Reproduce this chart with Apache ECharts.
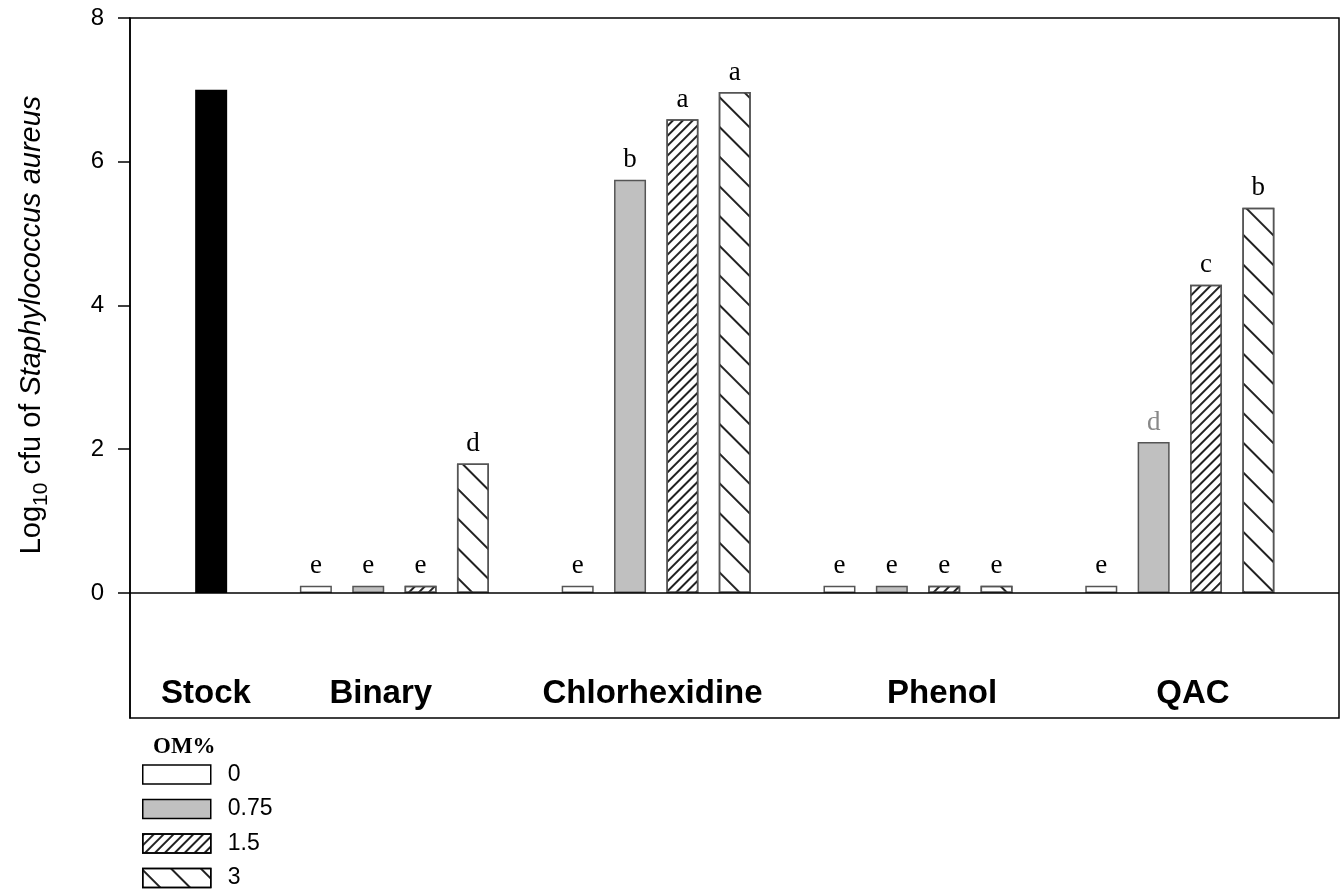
<!DOCTYPE html>
<html>
<head>
<meta charset="utf-8">
<script src="https://cdn.jsdelivr.net/npm/echarts@6/dist/echarts.min.js"></script>
<style>
html,body{margin:0;padding:0;background:#fff;}
#chart{width:1342px;height:892px;}
</style>
</head>
<body>
<div id="chart"></div>
<script>
// ---- data ----
const stockLabel = 'Stock';
const stockValue = 7.0;
const treatments = ['Binary', 'Chlorhexidine', 'Phenol', 'QAC'];
const omLevels = ['0', '0.75', '1.5', '3'];
const om0   = [0.1, 0.1, 0.1, 0.1];
const om075 = [0.1, 5.75, 0.1, 2.1];
const om15  = [0.1, 6.59, 0.1, 4.29];
const om3   = [1.8, 6.97, 0.1, 5.36];
const letters0   = ['e', 'e', 'e', 'e'];
const letters075 = ['e', 'b', 'e', 'd'];
const letters15  = ['e', 'a', 'e', 'c'];
const letters3   = ['d', 'a', 'e', 'b'];
const yTicks = [0, 2, 4, 6, 8];

// ---- layout helpers ----
const SANS = 'Liberation Sans, Arial, sans-serif';
const SERIF = 'Liberation Serif, Times New Roman, serif';
const slot = (g, k) => 2 + g * 5 + k;
const stockPos = 0;
const labelShift = [-0.1, -0.26, -0.07, 0.46, 0.25];
const catPositions = [stockPos + labelShift[0]].concat(treatments.map((t, g) => slot(g, 1.5) + labelShift[g + 1]));
const catNames = [stockLabel].concat(treatments);
const catMap = {};
catPositions.forEach((p, i) => { catMap[p.toFixed(3)] = catNames[i]; });

const values = [om0, om075, om15, om3];
const letters = [letters0, letters075, letters15, letters3];
const fills = ['#ffffff', '#c0c0c0', '#ffffff', '#ffffff'];
const decals = [
  null,
  null,
  { symbol: 'rect', symbolSize: 1, dashArrayX: [1, 0], dashArrayY: [1.4, 4.3], rotation: -Math.PI / 4, color: '#222' },
  { symbol: 'rect', symbolSize: 1, dashArrayX: [1, 0], dashArrayY: [1.4, 19], rotation: Math.PI / 4, color: '#222' }
];
const grayLetter = { '1-3': '#888' };

const omSeries = omLevels.map((name, k) => ({
  name: name,
  type: 'bar',
  barWidth: 32,
  barGap: '-100%',
  itemStyle: Object.assign({ color: fills[k], borderColor: '#555', borderWidth: 1.5 }, decals[k] ? { decal: decals[k] } : {}),
  label: {
    show: true,
    position: 'top',
    distance: 6,
    fontFamily: SERIF,
    fontSize: 27,
    color: '#000'
  },
  data: treatments.map((t, g) => {
    const item = { value: [slot(g, k), values[k][g]], label: { formatter: letters[k][g] } };
    if (grayLetter[k + '-' + g]) item.label.color = grayLetter[k + '-' + g];
    return item;
  })
}));

const chart = echarts.init(document.getElementById('chart'), null, { renderer: 'canvas' });
chart.setOption({
  animation: false,
  backgroundColor: '#fff',
  grid: { left: 130, right: 3, top: 18, bottom: 174, show: true, borderColor: '#000', borderWidth: 1.5, backgroundColor: 'transparent' },
  xAxis: {
    type: 'value',
    min: -1.55,
    max: 21.54,
    axisLine: { show: false, onZero: false },
    axisTick: { show: false },
    splitLine: { show: false },
    axisLabel: {
      inside: true,
      margin: 8,
      customValues: catPositions,
      formatter: v => catMap[Number(v).toFixed(3)] || '',
      fontFamily: SANS,
      fontWeight: 'bold',
      fontSize: 33,
      color: '#000'
    }
  },
  yAxis: {
    type: 'value',
    min: -1.74,
    max: 8,
    axisLine: { show: true, onZero: false, lineStyle: { color: '#000', width: 1.5 } },
    axisTick: { show: true, inside: false, length: 12, customValues: yTicks, lineStyle: { color: '#000', width: 1.5 } },
    splitLine: { show: false },
    axisLabel: { customValues: yTicks, margin: 26, fontFamily: SANS, fontSize: 24, color: '#000' }
  },
  legend: {
    data: omLevels,
    orient: 'vertical',
    left: 142,
    top: 763,
    padding: 0,
    itemWidth: 68,
    itemHeight: 19,
    itemGap: 11.5,
    icon: 'rect',
    itemStyle: { borderColor: '#000', borderWidth: 1.5 },
    textStyle: { fontFamily: SANS, fontSize: 23, color: '#000', padding: [0, 0, 0, 12] },
    selectedMode: false
  },
  graphic: [
    {
      type: 'text', left: 153, top: 736,
      style: { text: 'OM%', font: 'bold 23px ' + SERIF, fill: '#000' }
    },
    {
      type: 'text', x: 32, y: 325, rotation: Math.PI / 2,
      style: {
        text: '{a|Log}{s|10}{a| cfu of }{i|Staphylococcus aureus}',
        align: 'center', verticalAlign: 'middle',
        rich: {
          a: { fontFamily: SANS, fontSize: 29, lineHeight: 40, fill: '#000', color: '#000', verticalAlign: 'middle' },
          s: { fontFamily: SANS, fontSize: 21, lineHeight: 40, fill: '#000', color: '#000', verticalAlign: 'bottom' },
          i: { fontFamily: SANS, fontStyle: 'italic', fontSize: 29, lineHeight: 40, fill: '#000', color: '#000', verticalAlign: 'middle' }
        }
      }
    }
  ],
  series: [
    {
      name: stockLabel,
      type: 'bar',
      barWidth: 32,
      barGap: '-100%',
      itemStyle: { color: '#000' },
      data: [[stockPos, stockValue]],
      markLine: {
        silent: true,
        symbol: ['none', 'none'],
        label: { show: false },
        lineStyle: { color: '#000', width: 1.5, type: 'solid' },
        data: [{ yAxis: 0 }]
      }
    }
  ].concat(omSeries)
});
</script>
</body>
</html>
